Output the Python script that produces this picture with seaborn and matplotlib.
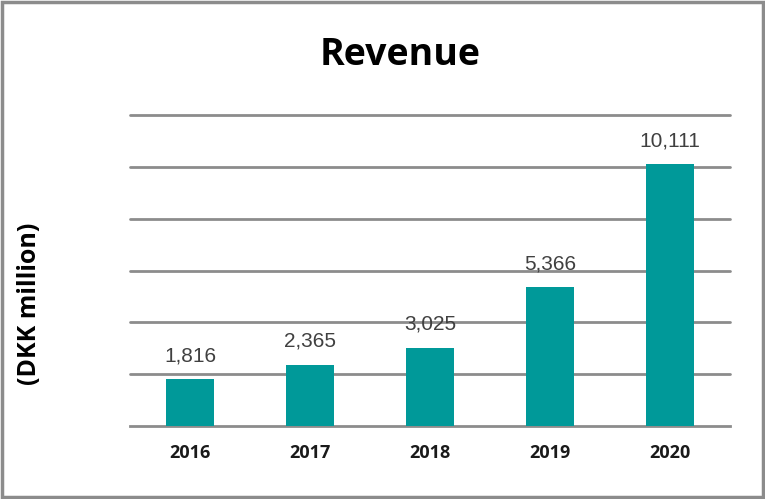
import matplotlib
matplotlib.use('Agg')
import matplotlib.pyplot as plt
import seaborn as sns
import pandas as pd

# data
years = ['2016', '2017', '2018', '2019', '2020']
revenue = [1816, 2365, 3025, 5366, 10111]
labels = ['1,816', '2,365', '3,025', '5,366', '10,111']

df = pd.DataFrame({'year': years, 'revenue': revenue})

sns.set_style('white')
plt.rcParams['font.family'] = ['Liberation Sans', 'DejaVu Sans']

fig = plt.figure(figsize=(7.65, 4.99), dpi=100)
ax = fig.add_axes([130/765, 1-426/499, 600/765, 311/499])

sns.barplot(data=df, x='year', y='revenue', color='#009999', width=0.4,
            saturation=1, linewidth=0, ax=ax, zorder=3)

ax.set_ylim(0, 12000)
ax.set_xlim(-0.5, 4.5)
ax.set_yticks(range(2000, 12001, 2000))
ax.yaxis.grid(True, color='#8c8c8c', linewidth=2, zorder=0)
for gl in ax.get_ygridlines():
    gl.set_clip_on(False)
ax.set_axisbelow(True)
ax.tick_params(axis='y', left=False, labelleft=False)
ax.tick_params(axis='x', length=0, pad=13)
ax.set_xticks([-0.5, 0.5, 1.5, 2.5, 3.5, 4.5], minor=True)
ax.tick_params(axis='x', which='minor', length=5, width=1.8, color='#8c8c8c')
for lab in ax.get_xticklabels():
    lab.set_fontweight('bold')
    lab.set_fontsize(13)
    lab.set_color('#1a1a1a')
    lab.set_family(['Open Sans', 'DejaVu Sans'])

for s in ['top', 'left', 'right']:
    ax.spines[s].set_visible(False)
ax.spines['bottom'].set_color('#8c8c8c')
ax.spines['bottom'].set_linewidth(2)
ax.set_xlabel('')
ax.set_ylabel('')

# value labels
for i, (v, t) in enumerate(zip(revenue, labels)):
    ax.annotate(t, (i, v), xytext=(0, 10), textcoords='offset points',
                ha='center', va='bottom', fontsize=15, color='#404040')

fig.text(400/765, 1-55/499, 'Revenue', ha='center', va='center', color='black',
         fontsize=27, fontweight='bold', family=['Open Sans', 'DejaVu Sans'])
fig.text(30/765, 1-304/499, '(DKK million)', ha='center', va='center', color='black',
         rotation=90, fontsize=18, fontweight='bold', family=['Open Sans', 'DejaVu Sans'])

# frame around the figure
fig.patches.append(plt.Rectangle((0.003, 0.004), 0.994, 0.992, transform=fig.transFigure,
                                 fill=False, edgecolor='#8c8c8c', linewidth=2.5))

fig.savefig('out.png', dpi=100)
